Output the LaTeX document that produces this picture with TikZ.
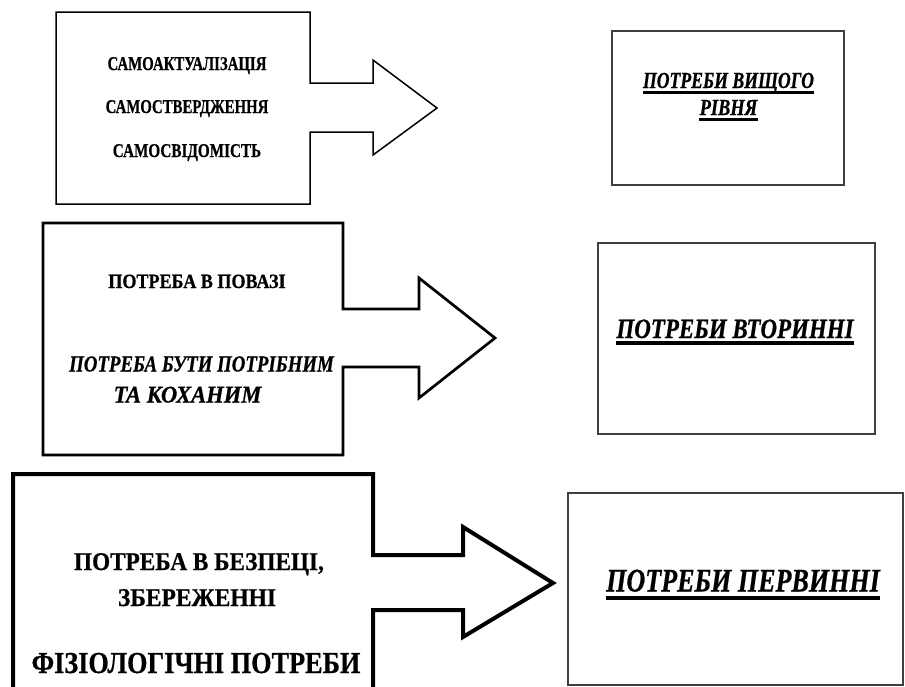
\documentclass[tikz,border=0pt]{standalone}
\usepackage{fontspec}
\setmainfont{Liberation Serif}[FakeStretch=0.82, BoldFeatures={FakeBold=0.6}, BoldItalicFeatures={FakeBold=0.6}]

\newcommand{\fsz}[1]{\fontsize{#1}{#1}\selectfont}
\newcommand{\sx}[1]{\addfontfeature{FakeStretch=#1}}
% underline under a goal node: name, depth, thickness
\newcommand{\underl}[3]{\draw[line width=#3] ([yshift=-#2]#1.base west) -- ([yshift=-#2]#1.base east);}

\tikzset{
  block/.style={draw=black, line join=miter, fill=white},
  goalbox/.style={draw=black!75, line width=1.2pt},
  need/.style={anchor=base, inner sep=0pt, font=\bfseries},
  goal/.style={anchor=base, inner sep=0pt, font=\bfseries\itshape},
}

\begin{document}
\begin{tikzpicture}[x=1pt,y=-1pt]
		\useasboundingbox (0,0) rectangle (905,686);
		\clip (0,0) rectangle (905,686);

		%higher level
		\draw[block, line width=1.5pt] (56,12) -- (310,12) -- (310,83) -- (373,83) -- (373,60) -- (437,108)
			-- (373,155) -- (373,132) -- (310,132) -- (310,204) -- (56,204) -- cycle;
		\node[need, font=\bfseries\fsz{19.5}\sx{0.76}] (selfact) at (187,70) {САМОАКТУАЛІЗАЦІЯ};
		\node[need, font=\bfseries\fsz{19.5}\sx{0.76}] (selfass) at (187,113) {САМОСТВЕРДЖЕННЯ};
		\node[need, font=\bfseries\fsz{19.5}\sx{0.78}] (selfcon) at (187,157) {САМОСВІДОМІСТЬ};

		\draw[goalbox] (612,31) rectangle (844,185);
		\node[goal, font=\bfseries\itshape\fsz{23}\sx{0.77}] (higha) at (728.5,88) {ПОТРЕБИ ВИЩОГО};
		\node[goal, font=\bfseries\itshape\fsz{23}\sx{0.8}] (highb) at (728.5,115) {РІВНЯ};
		\underl{higha}{4.5pt}{3pt}
		\underl{highb}{4.5pt}{3pt}

		%middle level
		\draw[block, line width=2.7pt] (43,223) -- (343,223) -- (343,309) -- (419,309) -- (419,278) -- (495,338)
			-- (419,398) -- (419,367) -- (343,367) -- (343,455) -- (43,455) -- cycle;
		\node[need, font=\bfseries\fsz{20.3}\sx{0.89}] (respect) at (197,288) {ПОТРЕБА В ПОВАЗІ};
		\node[goal, font=\bfseries\itshape\fsz{23}] (lovea) at (201.5,371.5) {ПОТРЕБА БУТИ ПОТРІБНИМ};
		\node[goal, font=\bfseries\itshape\fsz{24}\sx{0.94}] (loveb) at (187.5,402.5) {ТА КОХАНИМ};

		\draw[goalbox] (598,243) rectangle (875,434);
		\node[goal, font=\bfseries\itshape\fsz{28}] (second) at (735,338) {ПОТРЕБИ ВТОРИННІ};
		\underl{second}{5pt}{3.3pt}

		%lower level
		\draw[block, line width=4pt] (13,474) -- (373,474) -- (373,555) -- (463,555) -- (463,527) -- (553,583)
			-- (463,637) -- (463,610) -- (373,610) -- (373,700) -- (13,700) -- cycle;
		\node[need, font=\bfseries\fsz{25.5}\sx{0.91}] (safea) at (199,570) {ПОТРЕБА В БЕЗПЕЦІ,};
		\node[need, font=\bfseries\fsz{25.5}\sx{0.92}] (safeb) at (197,606) {ЗБЕРЕЖЕННІ};
		\node[need, font=\bfseries\fsz{30.5}\sx{0.86}] (body) at (196,673) {ФІЗІОЛОГІЧНІ ПОТРЕБИ};

		\draw[goalbox] (568,493) rectangle (903,685);
		\node[goal, font=\bfseries\itshape\fsz{33}\sx{0.79}] (primary) at (743,591.5) {ПОТРЕБИ ПЕРВИННІ};
		\underl{primary}{6pt}{4pt}
\end{tikzpicture}
\end{document}
